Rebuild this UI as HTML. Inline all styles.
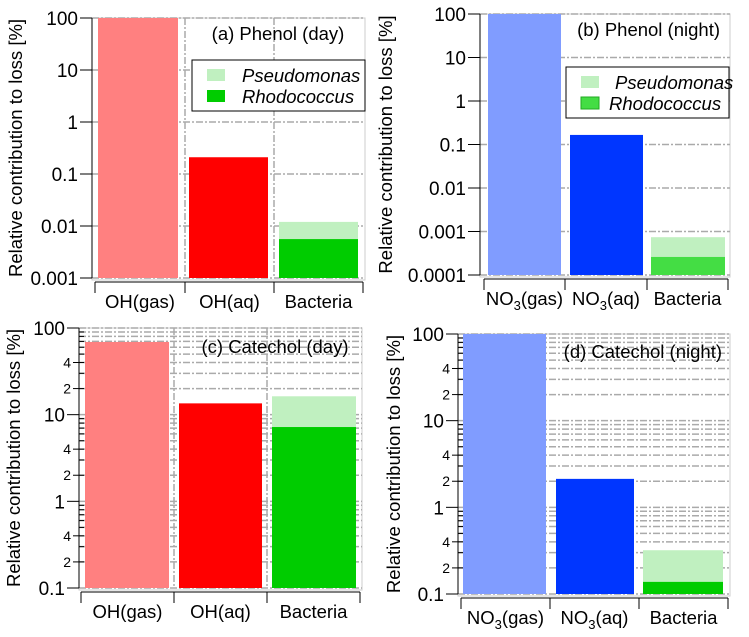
<!DOCTYPE html>
<html><head><meta charset="utf-8"><style>
body{margin:0;background:#fff;}
svg{display:block;font-family:"Liberation Sans",Arial,sans-serif;}
</style></head><body>
<svg id="c" width="749" height="637" xmlns="http://www.w3.org/2000/svg"></svg>
<script>
const categoriesA=["OH(gas)","OH(aq)","Bacteria"];
const categoriesB=["NO3(gas)","NO3(aq)","Bacteria"];
const valuesA=[100,0.21,0.012];
const rhodoA=0.0056;
const valuesB=[100,0.166,0.00074];
const rhodoB=0.00026;
const valuesC=[69,13.5,16.3];
const rhodoC=7.2;
const valuesD=[100,2.13,0.32];
const rhodoD=0.138;
const ticksA=["100","10","1","0.1","0.01","0.001"];
const ticksB=["100","10","1","0.1","0.01","0.001","0.0001"];
const ticksC=["100","10","1","0.1"];

const NS="http://www.w3.org/2000/svg";
const svg=document.getElementById('c');
function mk(tag,attrs,parent){const e=document.createElementNS(NS,tag);for(const k in attrs)e.setAttribute(k,attrs[k]);(parent||svg).appendChild(e);return e;}

const panels=[
 {id:"a",x0:92,x1:365,y0:18,y1:278,min:-3,max:2,cats:categoriesA,vals:valuesA,rh:rhodoA,ticks:ticksA,cols:["#ff8080","#ff0000"],rhCol:"#00cc00",
  title:"(a) Phenol (day)",tx:278,ty:40,anchor:"middle",legend:[192,60],grid:"decade",vgrid:true,minorLabels:false,bars:[[98,178],[189,268],[279,358]],ticks2:[95,185,274,363],ytl:22},
 {id:"b",x0:480,x1:730,y0:14,y1:275,min:-4,max:2,cats:categoriesB,vals:valuesB,rh:rhodoB,ticks:ticksB,cols:["#809cff","#0036ff"],rhCol:"#44dd44",
  title:"(b) Phenol (night)",tx:720,ty:36,anchor:"end",legend:[566,67],grid:"decade",vgrid:false,minorLabels:false,bars:[[488,561],[570,643],[651,725]],ticks2:[484,565,647,728],ytl:392},
 {id:"c",x0:79,x1:362,y0:328,y1:588,min:-1,max:2,cats:categoriesA,vals:valuesC,rh:rhodoC,ticks:ticksC,cols:["#ff8080","#ff0000"],rhCol:"#00cc00",
  title:"(c) Catechol (day)",tx:275,ty:353,anchor:"middle",legend:null,grid:"minor",vgrid:true,minorLabels:true,bars:[[85,169],[179,262],[272,356]],ticks2:[81,174,267,360],ytl:20},
 {id:"d",x0:458,x1:730,y0:334,y1:594,min:-1,max:2,cats:categoriesB,vals:valuesD,rh:rhodoD,ticks:ticksC,cols:["#809cff","#0036ff"],rhCol:"#00cc00",
  title:"(d) Catechol (night)",tx:722,ty:358,anchor:"end",legend:null,grid:"minor",vgrid:false,minorLabels:true,bars:[[463,546],[556,634],[643,723]],ticks2:[461,550,639,728],ytl:400}
];

panels.forEach(p=>{
 const g=mk('g',{});
 
 
 const Y=v=>p.y1-(Math.log10(v)-p.min)/(p.max-p.min)*(p.y1-p.y0);
 mk('rect',{x:p.x0,y:p.y0,width:p.x1-p.x0,height:p.y1-p.y0+2,fill:"none",stroke:"#ccc","stroke-width":1},g);
 const gl=mk('g',{stroke:"#aaa","stroke-width":1.5,"stroke-dasharray":"7,2,2,2"},g);
 
 
 for(let e=p.min;e<=p.max;e++){
  const mults=p.grid==="minor"?[1,2,3,4,5,6,7,8,9]:[1];
  mults.forEach(m=>{const v=m*Math.pow(10,e);if(Math.log10(v)>p.max+1e-9)return;
   const y=Y(v);mk('line',{x1:p.x0,x2:p.x1,y1:y,y2:y},gl);});
 }
 if(p.vgrid){[1,2].forEach(i=>{const x=p.ticks2[i];mk('line',{x1:x,x2:x,y1:p.y0,y2:p.y1},gl);});}
 [0,1].forEach(i=>{const b=mk('rect',{x:p.bars[i][0],y:Y(p.vals[i]),width:p.bars[i][1]-p.bars[i][0],height:p.y1-Y(p.vals[i]),fill:p.cols[i]},g);
  
  });
 const bt=mk('rect',{x:p.bars[2][0],y:Y(p.vals[2]),width:p.bars[2][1]-p.bars[2][0],height:p.y1-Y(p.vals[2]),fill:"#c0f0c0"},g);
 
 
 const br=mk('rect',{x:p.bars[2][0],y:Y(p.rh),width:p.bars[2][1]-p.bars[2][0],height:p.y1-Y(p.rh),fill:p.rhCol},g);
 
 
 mk('line',{x1:p.x0,x2:p.x0,y1:p.y0,y2:p.y1,stroke:"#000","stroke-width":1},g);
 for(let e=p.min;e<=p.max;e++){
  const y=Y(Math.pow(10,e));
  mk('line',{x1:p.x0-12,x2:p.x0,y1:y,y2:y,stroke:"#000"},g);
  const t=mk('text',{x:p.x0-14,y:y+7,"text-anchor":"end","font-size":19},g);
  t.textContent=p.ticks[p.max-e];
  
  
  if(p.minorLabels&&e<p.max){
   for(let m=2;m<=9;m++){const ym=Y(m*Math.pow(10,e));
    mk('line',{x1:p.x0-(m==2||m==4?6:0),x2:p.x0+5,y1:ym,y2:ym,stroke:"#000"},g);
    if(m==2||m==4){const tl=mk('text',{x:p.x0-8,y:ym+5,"text-anchor":"end","font-size":14},g);tl.textContent=String(m);
     
     }}
  }
 }
 const cy=(p.y0+p.y1)/2;
 const yt=mk('text',{x:p.ytl,y:cy,"font-size":18.5,"text-anchor":"middle",transform:`rotate(-90 ${p.ytl} ${cy})`},g);
 yt.textContent="Relative contribution to loss [%]";
 
 
 const xa=p.y1+4;
 mk('line',{x1:p.ticks2[0],x2:p.ticks2[3],y1:xa,y2:xa,stroke:"#000"},g);
 p.ticks2.forEach(x=>mk('line',{x1:x,x2:x,y1:xa,y2:xa+11,stroke:"#000"},g));
 p.cats.forEach((c,i)=>{const cx=(p.ticks2[i]+p.ticks2[i+1])/2;
  const t=mk('text',{x:cx,y:xa+26,"text-anchor":"middle","font-size":18.5},g);
  
  
  const m=c.match(/^NO3(.*)$/);
  if(m){t.textContent="NO";const s=mk('tspan',{"font-size":13,dy:5},t);s.textContent="3";const r=mk('tspan',{dy:-5},t);r.textContent=m[1];}
  else t.textContent=c;});
 const ti=mk('text',{x:p.tx,y:p.ty,"text-anchor":p.anchor,"font-size":18.5},g);
 ti.textContent=p.title;
 
 
 if(p.legend){const [lx,ly]=p.legend;const lg=mk('g',{},g);
  
  
  mk('rect',{x:lx,y:ly,width:p.id=="a"?173:163,height:51,fill:"#fff",stroke:"#000"},lg);
  mk('rect',{x:lx+15,y:ly+9,width:18,height:12,fill:"#c0f0c0"},lg);
  mk('rect',{x:lx+15,y:ly+30,width:18,height:12,fill:p.rhCol,stroke:p.id=="b"?"#2a2":"none"},lg);
  const t1=mk('text',{x:lx+p.legend[0]*0+(p.id=="a"?50:49),y:ly+22,"font-size":18.5,"font-style":"italic"},lg);t1.textContent="Pseudomonas";
  
  
  const t2=mk('text',{x:lx+(p.id=="a"?50:43),y:ly+43,"font-size":18.5,"font-style":"italic"},lg);t2.textContent="Rhodococcus";
  
  }
});
</script>
</body></html>
